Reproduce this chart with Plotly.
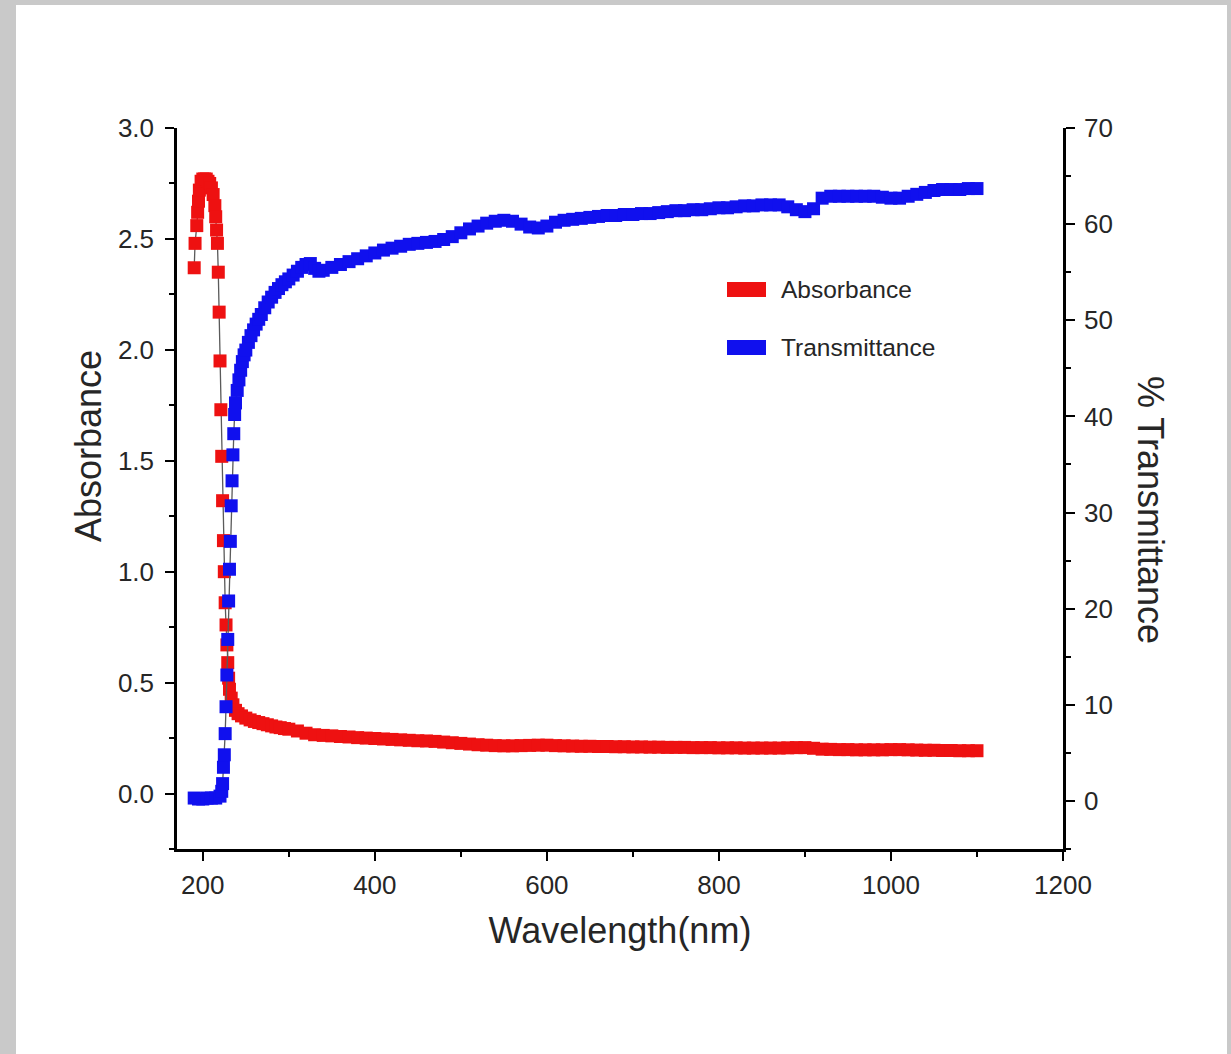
import plotly.graph_objects as go

# ---------------- data ----------------
abs_wl = [190, 191, 193, 194, 195, 196, 198, 200, 202, 204, 206, 208, 210, 212, 214, 215, 216, 217,
          218, 219, 220, 221, 222, 223, 224, 225, 226, 227, 228, 229, 230, 231, 233, 235, 238, 241,
          245, 250, 255, 260, 265, 270, 275, 280, 285, 290, 295, 300, 310, 320, 330, 340, 350, 360,
          370, 380, 390, 400, 410, 420, 430, 440, 450, 460, 470, 480, 490, 500, 510, 520, 530, 540,
          550, 560, 570, 580, 590, 600, 610, 620, 630, 640, 650, 660, 670, 680, 690, 700, 710, 720,
          730, 740, 750, 760, 770, 780, 790, 800, 810, 820, 830, 840, 850, 860, 870, 880, 890, 900,
          910, 920, 930, 940, 950, 960, 970, 980, 990, 1000, 1010, 1020, 1030, 1040, 1050, 1060,
          1070, 1080, 1090, 1100]
absorbance = [2.37, 2.48, 2.56, 2.62, 2.67, 2.72, 2.76, 2.77, 2.77, 2.77, 2.76, 2.75, 2.73, 2.70, 2.65, 2.60, 2.54, 2.48,
              2.35, 2.17, 1.95, 1.73, 1.52, 1.32, 1.14, 1.00, 0.86, 0.76, 0.67, 0.59, 0.52, 0.47, 0.43, 0.40, 0.375, 0.36,
              0.35, 0.34, 0.332, 0.325, 0.32, 0.315, 0.31, 0.305, 0.30, 0.297, 0.293, 0.29, 0.282, 0.272, 0.265, 0.262, 0.26, 0.257,
              0.255, 0.252, 0.25, 0.248, 0.246, 0.244, 0.242, 0.24, 0.238, 0.237, 0.235, 0.232, 0.229, 0.226, 0.223, 0.22, 0.218, 0.216,
              0.215, 0.215, 0.216, 0.217, 0.218, 0.218, 0.216, 0.215, 0.214, 0.213, 0.213, 0.212, 0.212, 0.211, 0.211, 0.210, 0.210, 0.209,
              0.209, 0.208, 0.208, 0.208, 0.207, 0.207, 0.207, 0.206, 0.206, 0.206, 0.205, 0.205, 0.205, 0.205, 0.205, 0.206, 0.207, 0.207,
              0.204, 0.200, 0.199, 0.198, 0.198, 0.197, 0.197, 0.197, 0.197, 0.198, 0.198, 0.197, 0.196, 0.195, 0.195, 0.194,
              0.194, 0.193, 0.193, 0.193]

tr_wl = [190, 195, 200, 205, 210, 215, 220, 222, 223, 224, 225, 226, 227, 228, 229, 230, 231, 232, 233, 234,
         235, 236, 237, 238, 240, 242, 244, 246, 248, 250, 253, 256, 259, 262, 265, 268, 272, 276, 280, 284,
         288, 292, 296, 300, 305, 310, 315, 320, 325, 330, 335, 340, 350, 360, 370, 380, 390, 400, 410, 420,
         430, 440, 450, 460, 470, 480, 490, 500, 510, 520, 530, 540, 550, 560, 570, 580, 590, 600, 610, 620,
         630, 640, 650, 660, 670, 680, 690, 700, 710, 720, 730, 740, 750, 760, 770, 780, 790, 800, 810, 820,
         830, 840, 850, 860, 870, 880, 890, 900, 910, 920, 930, 940, 950, 960, 970, 980, 990, 1000, 1010, 1020,
         1030, 1040, 1050, 1060, 1070, 1080, 1090, 1100]
transmittance = [0.3, 0.2, 0.2, 0.3, 0.3, 0.3, 0.5, 1.0, 1.8, 3.5, 4.8, 7.0, 9.8, 13.1, 16.8, 20.8, 24.1, 27.0, 30.7, 33.3,
                 36.0, 38.2, 40.2, 41.4, 42.7, 43.8, 44.8, 45.7, 46.4, 46.9, 47.7, 48.4, 49.0, 49.6, 50.1, 50.6, 51.3, 51.9, 52.4, 52.9,
                 53.3, 53.7, 54.0, 54.3, 54.7, 55.1, 55.5, 55.8, 55.9, 55.4, 55.1, 55.2, 55.5, 55.8, 56.1, 56.4, 56.7, 57.0, 57.3, 57.5,
                 57.7, 57.9, 58.0, 58.1, 58.2, 58.4, 58.7, 59.1, 59.5, 59.8, 60.1, 60.3, 60.4, 60.3, 60.0, 59.7, 59.6, 59.8, 60.2, 60.4,
                 60.5, 60.6, 60.7, 60.8, 60.9, 60.9, 61.0, 61.0, 61.1, 61.1, 61.2, 61.3, 61.4, 61.4, 61.5, 61.5, 61.6, 61.7, 61.7, 61.8,
                 61.9, 61.9, 62.0, 62.0, 62.0, 61.8, 61.5, 61.3, 61.6, 62.7, 62.9, 62.9, 62.9, 62.9, 62.9, 62.9, 62.8, 62.7, 62.7, 62.9,
                 63.1, 63.3, 63.5, 63.6, 63.6, 63.6, 63.7, 63.7]

x_ticks = [200, 400, 600, 800, 1000, 1200]
y_ticks = [0.0, 0.5, 1.0, 1.5, 2.0, 2.5, 3.0]
y_tick_text = ["0.0", "0.5", "1.0", "1.5", "2.0", "2.5", "3.0"]
y2_ticks = [0, 10, 20, 30, 40, 50, 60, 70]
series_names = ["Absorbance", "Transmittance"]
axis_titles = ["Wavelength(nm)", "Absorbance", "% Transmittance"]

# ---------------- styling ----------------
W, H = 1231, 1054
L, R, T, B = 177, 1063, 128, 849   # plot area in pixels
RED = "#ee1111"
BLUE = "#1010ee"
GREY = "#c9c9c9"
FONT = "Liberation Sans, Arial, sans-serif"
TXT = "#262626"


def px(x):
    return (x - L) / (R - L)


def py(y):
    return (B - y) / (B - T)


fig = go.Figure()
fig.add_trace(go.Scatter(
    x=abs_wl, y=absorbance, name=series_names[0], mode="lines+markers",
    line=dict(color="#5a5a5a", width=1.3),
    marker=dict(symbol="square", size=13, color=RED, line=dict(width=0)),
    showlegend=False, yaxis="y", xaxis="x"))
fig.add_trace(go.Scatter(
    x=tr_wl, y=transmittance, name=series_names[1], mode="lines+markers",
    line=dict(color="#5a5a5a", width=1.3),
    marker=dict(symbol="square", size=13, color=BLUE, line=dict(width=0)),
    showlegend=False, yaxis="y2", xaxis="x"))

axis_common = dict(showline=True, linecolor="black", linewidth=2.5, showgrid=False, zeroline=False,
                   tickcolor="black", tickwidth=2, ticklen=9,
                   tickfont=dict(family=FONT, size=26, color=TXT))
minor_common = dict(ticklen=5, tickwidth=2, tickcolor="black")

fig.update_layout(
    width=W, height=H,
    margin=dict(l=L, r=W - R, t=T, b=H - B, pad=0),
    paper_bgcolor=GREY, plot_bgcolor="white",
    xaxis=dict(range=[170, 1200], tickvals=x_ticks, ticks="outside",
               minor=dict(tickvals=[300, 500, 700, 900, 1100], ticks="outside", **minor_common),
               title=dict(text=axis_titles[0], font=dict(family=FONT, size=36, color=TXT), standoff=19),
               ticklabelstandoff=2, **axis_common),
    xaxis2=dict(range=[170, 1200], overlaying="x", side="top", anchor="y", tickvals=x_ticks,
                ticks="inside", showticklabels=False,
                minor=dict(tickvals=[300, 500, 700, 900, 1100], ticks="inside", **minor_common),
                **axis_common),
    yaxis=dict(range=[-0.25, 3.0], tickvals=y_ticks, ticktext=y_tick_text, ticks="outside",
               minor=dict(tickvals=[-0.25, 0.25, 0.75, 1.25, 1.75, 2.25, 2.75], ticks="outside",
                          **minor_common),
               ticklabelstandoff=6, **axis_common),
    yaxis2=dict(range=[-5, 70], overlaying="y", side="right", anchor="x", tickvals=y2_ticks,
                ticks="outside",
                minor=dict(tickvals=[-5, 5, 15, 25, 35, 45, 55, 65], ticks="outside", **minor_common),
                ticklabelstandoff=4, **axis_common),
    shapes=[
        # white page inside the grey frame
        dict(type="rect", xref="paper", yref="paper", x0=px(16), x1=px(1227), y0=py(1060), y1=py(5),
             fillcolor="white", line=dict(width=0), layer="below"),
        # legend swatches
        dict(type="rect", xref="paper", yref="paper", x0=px(727), x1=px(766), y0=py(297), y1=py(282),
             fillcolor=RED, line=dict(width=0)),
        dict(type="rect", xref="paper", yref="paper", x0=px(727), x1=px(766), y0=py(355), y1=py(340),
             fillcolor=BLUE, line=dict(width=0)),
    ],
    annotations=[
        dict(text=series_names[0], xref="paper", yref="paper", x=px(779), y=py(289), xanchor="left",
             yanchor="middle", showarrow=False, font=dict(family=FONT, size=24.5, color=TXT)),
        dict(text=series_names[1], xref="paper", yref="paper", x=px(779), y=py(347), xanchor="left",
             yanchor="middle", showarrow=False, font=dict(family=FONT, size=24.5, color=TXT)),
        dict(text=axis_titles[1], xref="paper", yref="paper", x=px(88), y=py(446), xanchor="center",
             yanchor="middle", textangle=-90, showarrow=False,
             font=dict(family=FONT, size=36, color=TXT)),
        dict(text=axis_titles[2], xref="paper", yref="paper", x=px(1151), y=py(510), xanchor="center",
             yanchor="middle", textangle=90, showarrow=False,
             font=dict(family=FONT, size=36, color=TXT)),
    ],
)

fig.write_html("out.html", config={"displayModeBar": False},
               post_script="document.body.style.margin='0';document.body.style.background='%s';" % GREY)
